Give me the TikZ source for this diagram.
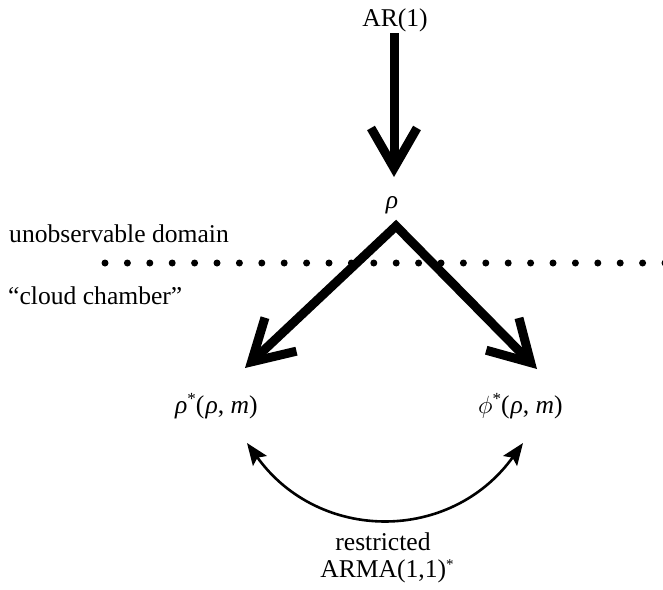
\documentclass[tikz,border=0pt]{standalone}
\usepackage{fontspec}
\setmainfont{Liberation Serif}
\usetikzlibrary{arrows.meta}
\newcommand{\supstar}{\raisebox{9pt}{\fontsize{17}{17}\selectfont *}}
\begin{document}
\begin{tikzpicture}[x=1pt,y=-1pt,
  lbl/.style={inner sep=0pt, font=\fontsize{25.6}{30}\selectfont},
  bigline/.style={line width=9pt, line join=miter, black},
  bigtip/.tip={Straight Barb[length=40pt,width=46pt]},
  smalltip/.tip={Stealth[length=22pt,width=17pt,inset=4pt]},
  curvearrow/.style={line width=2.6pt, smalltip-smalltip},
  dotline/.style={line width=7pt, line cap=round, dash pattern=on 0pt off 22.4pt}
]
\useasboundingbox (0,0) rectangle (663,589);
% texts
\node[lbl, anchor=base] (ar) at (395,26) {AR(1)};
\node[lbl, anchor=base] (rho) at (392,208) {\itshape ρ};
\node[lbl, anchor=base west] (unobs) at (9,242) {unobservable domain};
\node[lbl, anchor=base west] (cloud) at (8,304) {“cloud chamber”};
\node[lbl, anchor=base west] (rs) at (175,413) {{\itshape ρ}\supstar(\kern1pt{\itshape ρ}, {\itshape m})};
\node[lbl, anchor=base west] (ps) at (478,413) {$\phi$\supstar(\kern1pt{\itshape ρ}, {\itshape m})};
\node[lbl, anchor=base] (restr) at (383,550) {restricted};
\node[lbl, anchor=base] (arma) at (387,577) {ARMA(1,1)\raisebox{8pt}{\fontsize{15}{15}\selectfont *}};
% dotted boundary
\coordinate (dstart) at (105,263);
\coordinate (dend) at (680,263);
\draw[dotline] (dstart) -- (dend);
% vertical arrow
\coordinate (vtop) at (394,33);
\coordinate (vtip) at (394,177);
\draw[bigline, -bigtip] (vtop) -- (vtip);
% V arrows
\coordinate (peak) at (396,226);
\coordinate (ltip) at (245,368);
\coordinate (rtip) at (537,369);
\draw[bigline, bigtip-bigtip] (ltip) -- (peak) -- (rtip);
% curved arrow
\coordinate (cl) at (247,443);
\coordinate (cr) at (523,443);
\draw[curvearrow] (cl) .. controls (319,543) and (451,543) .. (cr);
\end{tikzpicture}
\end{document}
